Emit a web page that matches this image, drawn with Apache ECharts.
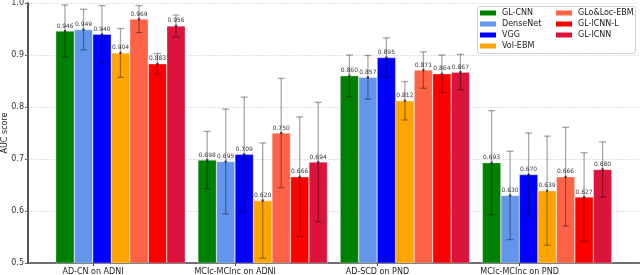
<!DOCTYPE html>
<html><head><meta charset="utf-8">
<script src="https://cdn.jsdelivr.net/npm/echarts@6/dist/echarts.min.js"></script>
<style>html,body{margin:0;padding:0;background:#fff}#c{width:640px;height:275px}</style>
</head><body><div id="c"></div>
<script>
var categories = ['AD-CN on ADNI', 'MCIc-MCInc on ADNI', 'AD-SCD on PND', 'MCIc-MCInc on PND'];
var modelNames = ['GL-CNN', 'DenseNet', 'VGG', 'Vol-EBM', 'GLo&Loc-EBM', 'GL-ICNN-L', 'GL-ICNN'];
var colors = ['#008000', '#6495ED', '#0000FF', '#FFA500', '#FF6347', '#FF0000', '#DC143C'];
var glCnn     = [0.946, 0.698, 0.860, 0.693];
var denseNet  = [0.949, 0.695, 0.857, 0.630];
var vgg       = [0.940, 0.709, 0.895, 0.670];
var volEbm    = [0.904, 0.620, 0.812, 0.639];
var gloLocEbm = [0.969, 0.750, 0.871, 0.666];
var glIcnnL   = [0.883, 0.666, 0.864, 0.627];
var glIcnn    = [0.956, 0.694, 0.867, 0.680];
var errGlCnn     = [0.050, 0.055, 0.040, 0.100];
var errDenseNet  = [0.039, 0.101, 0.042, 0.085];
var errVgg       = [0.055, 0.110, 0.038, 0.080];
var errVolEbm    = [0.047, 0.111, 0.037, 0.105];
var errGloLocEbm = [0.026, 0.105, 0.035, 0.095];
var errGlIcnnL   = [0.020, 0.115, 0.036, 0.085];
var errGlIcnn    = [0.021, 0.115, 0.034, 0.053];
var yTicks = [0.5, 0.6, 0.7, 0.8, 0.9, 1.0];

var values = [glCnn, denseNet, vgg, volEbm, gloLocEbm, glIcnnL, glIcnn];
var errors = [errGlCnn, errDenseNet, errVgg, errVolEbm, errGloLocEbm, errGlIcnnL, errGlIcnn];

var FONT = 'DejaVu Sans';
var BARW = 18.5;
var chart = echarts.init(document.getElementById('c'), null, {renderer: 'canvas'});

var series = [];
values.forEach(function (vals, j) {
  series.push({
    name: modelNames[j], type: 'bar', xAxisIndex: 1, yAxisIndex: 1,
    barWidth: BARW, barGap: '0%',
    itemStyle: {color: colors[j], borderColor: 'rgba(255,255,255,0.6)', borderWidth: 0.5},
    label: {show: true, position: 'top', distance: 2, fontFamily: FONT, fontSize: 6, color: '#3a3a3a',
      formatter: function (p) { return p.value.toFixed(3); }},
    data: vals, z: 2
  });
});
values.forEach(function (vals, j) {
  series.push({
    type: 'custom', xAxisIndex: 1, yAxisIndex: 1, z: 3, silent: true,
    data: vals.map(function (v, i) { return [i, v, v - errors[j][i], v + errors[j][i]]; }),
    renderItem: function (params, api) {
      var c = api.coord([api.value(0), api.value(1)]);
      var lo = api.coord([api.value(0), api.value(2)]);
      var hi = api.coord([api.value(0), api.value(3)]);
      var x = c[0] + (j - 3) * BARW;
      var st = {stroke: 'rgba(0,0,0,0.35)', lineWidth: 1.3};
      return {type: 'group', children: [
        {type: 'line', shape: {x1: x, y1: lo[1], x2: x, y2: hi[1]}, style: st},
        {type: 'line', shape: {x1: x - 3.5, y1: lo[1], x2: x + 3.5, y2: lo[1]}, style: st},
        {type: 'line', shape: {x1: x - 3.5, y1: hi[1], x2: x + 3.5, y2: hi[1]}, style: st},
        {type: 'circle', shape: {cx: x, cy: c[1], r: 1.3}, style: {fill: 'rgba(0,0,0,0.6)'}}
      ]};
    }
  });
});

var legendCommon = {
  orient: 'vertical', icon: 'rect', itemWidth: 16, itemHeight: 5, itemGap: 3,
  itemStyle: {borderWidth: 0},
  textStyle: {fontFamily: FONT, fontSize: 8, color: '#222', padding: [0, 0, 0, 1]},
  padding: 0, top: 9, z: 20
};

chart.setOption({
  animation: false,
  grid: [
    {left: 28, right: 0, top: 3, bottom: 12, outerBoundsMode: 'none', containLabel: false},
    {left: 49.4, right: 21.8, top: 3, bottom: 12, outerBoundsMode: 'none', containLabel: false}
  ],
  xAxis: [
    {type: 'value', gridIndex: 0, min: -0.457, max: 3.847,
      axisLine: {show: true, onZero: false, lineStyle: {color: '#444', width: 1.5}},
      axisTick: {show: true, customValues: [0, 1, 2, 3], length: 3, lineStyle: {color: '#444'}},
      axisLabel: {show: true, customValues: [0, 1, 2, 3], margin: 5, fontFamily: FONT, fontSize: 8, color: '#222',
        formatter: function (v) { return categories[Math.round(v)]; }},
      splitLine: {show: false}},
    {type: 'category', gridIndex: 1, data: categories,
      axisLine: {show: false}, axisTick: {show: false}, axisLabel: {show: false}}
  ],
  yAxis: [
    {type: 'value', gridIndex: 0, min: yTicks[0], max: yTicks[yTicks.length - 1], interval: 0.1,
      name: 'AUC score', nameLocation: 'middle', nameGap: 19, nameMoveOverlap: false,
      nameTextStyle: {fontFamily: FONT, fontSize: 8, color: '#222'},
      axisLine: {show: true, onZero: false, lineStyle: {color: '#555', width: 2}},
      axisTick: {show: true, length: 3, lineStyle: {color: '#666'}},
      axisLabel: {fontFamily: FONT, fontSize: 8, color: '#333', margin: 4,
        formatter: function (v) { return v.toFixed(1); }},
      splitLine: {show: true, lineStyle: {color: '#d8d8d8', type: [1.5, 1.5], width: 1}}},
    {type: 'value', gridIndex: 1, min: yTicks[0], max: yTicks[yTicks.length - 1],
      show: false, splitLine: {show: false}}
  ],
  legend: [
    Object.assign({}, legendCommon, {left: 480, data: modelNames.slice(0, 4)}),
    Object.assign({}, legendCommon, {left: 556, data: modelNames.slice(4)})
  ],
  graphic: [{type: 'rect', shape: {x: 477.5, y: 6.5, width: 158, height: 47, r: 2},
    style: {fill: 'rgba(255,255,255,0.85)', stroke: '#d0d0d0', lineWidth: 1}, z: 5, silent: true}],
  series: series
});
</script></body></html>
